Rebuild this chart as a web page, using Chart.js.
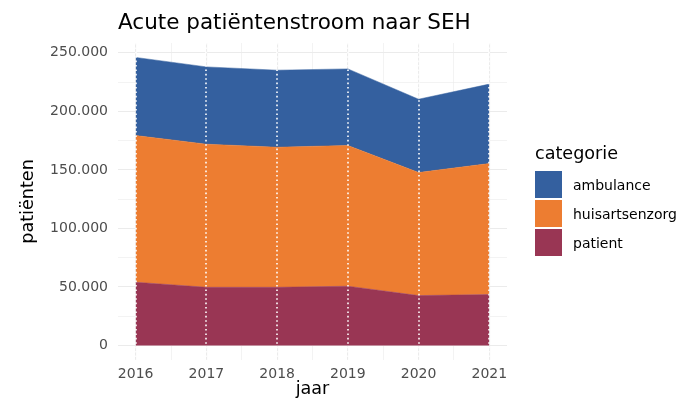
<!DOCTYPE html>
<html lang="nl">
  <head>
    <meta charset="UTF-8" />
    <title>Acute patiëntenstroom naar SEH</title>
    <style>
      body {
        margin: 0;
        background: #fff;
        font-family: "DejaVu Sans", sans-serif;
      }
      .frame {
        position: relative;
        width: 687px;
        height: 405px;
      }
      #title {
        position: absolute;
        left: 118px;
        top: 11px;
        font-size: 21.5px;
        line-height: 22px;
        color: #000;
        white-space: nowrap;
      }
      .legend {
        position: absolute;
        left: 535px;
        top: 142px;
      }
      .legend h4 {
        margin: 0 0 7px 0;
        font-weight: normal;
        font-size: 17.6px;
        line-height: 22px;
      }
      .legend .item {
        display: flex;
        align-items: center;
        height: 27px;
        margin-bottom: 2px;
        font-size: 14px;
      }
      .legend .box {
        width: 27px;
        height: 27px;
        margin-right: 11px;
      }
    </style>
  </head>
  <body>
    <div class="frame">
      <canvas id="myChart" width="687" height="405"></canvas>
      <div id="title">Acute patiëntenstroom naar SEH</div>
      <div class="legend">
        <h4>categorie</h4>
        <div id="legendItems"></div>
      </div>
    </div>
  </body>
  <script src="https://cdn.jsdelivr.net/npm/chart.js"></script>

  <script>
    const years = [2016, 2017, 2018, 2019, 2020, 2021];
    const patient = [54100, 49800, 49800, 50700, 42700, 43600];
    const huisartsenzorg = [125300, 122200, 119600, 120200, 105100, 111900];
    const ambulance = [66700, 66000, 65800, 65400, 62600, 67800];
    const yTicks = [0, 50000, 100000, 150000, 200000, 250000];
    const yTickLabels = ["0", "50.000", "100.000", "150.000", "200.000", "250.000"];

    const colors = {
      ambulance: "#34609f",
      huisartsenzorg: "#ed7d31",
      patient: "#993654",
    };
    const gridColor = "#ebebeb";
    const tickColor = "#4d4d4d";

    // stapel-totaal voor het asbereik (ggplot expand 5%)
    const totals = years.map((_, i) => patient[i] + huisartsenzorg[i] + ambulance[i]);
    const yMaxData = Math.max(...totals);
    const xSpan = years[years.length - 1] - years[0];

    function points(values) {
      return years.map((y, i) => ({ x: y, y: values[i] }));
    }

    // hoofd- en tussenlijnen
    function withMinor(major) {
      const t = [];
      major.forEach((v, i) => {
        t.push({ value: v, major: true });
        if (i < major.length - 1) t.push({ value: (v + major[i + 1]) / 2, major: false });
      });
      return t;
    }

    // witte stippellijnen per jaar over de vlakken
    const yearLines = {
      id: "yearLines",
      afterDatasetsDraw(chart) {
        const { ctx, chartArea, scales } = chart;
        ctx.save();
        ctx.strokeStyle = "#ffffff";
        ctx.lineWidth = 1.6;
        ctx.setLineDash([1.6, 2.8]);
        years.forEach((yr) => {
          const x = Math.round(scales.x.getPixelForValue(yr));
          ctx.beginPath();
          ctx.moveTo(x, chartArea.top);
          ctx.lineTo(x, chartArea.bottom);
          ctx.stroke();
        });
        ctx.restore();
      },
    };

    function gridWidth(c) {
      return c.tick && c.tick.major ? 1.1 : 0.6;
    }

    const ctx = document.getElementById("myChart");
    const chart = new Chart(ctx, {
      type: "line",
      data: {
        datasets: [
          {
            label: "patient",
            data: points(patient),
            backgroundColor: colors.patient,
            borderColor: colors.patient,
            borderWidth: 0.5,
            fill: "origin",
            pointRadius: 0,
          },
          {
            label: "huisartsenzorg",
            data: points(huisartsenzorg),
            backgroundColor: colors.huisartsenzorg,
            borderColor: colors.huisartsenzorg,
            borderWidth: 0.5,
            fill: "-1",
            pointRadius: 0,
          },
          {
            label: "ambulance",
            data: points(ambulance),
            backgroundColor: colors.ambulance,
            borderColor: colors.ambulance,
            borderWidth: 0.5,
            fill: "-1",
            pointRadius: 0,
          },
        ],
      },
      options: {
        responsive: false,
        animation: false,
        layout: { padding: { top: 43, right: 180, left: 0, bottom: 0 } },
        plugins: {
          legend: { display: false },
          tooltip: { enabled: false },
        },
        scales: {
          x: {
            type: "linear",
            min: years[0] - 0.05 * xSpan,
            max: years[years.length - 1] + 0.05 * xSpan,
            afterBuildTicks(scale) {
              scale.ticks = withMinor(years);
            },
            afterFit(scale) {
              scale.height = 45;
            },
            grid: { color: gridColor, lineWidth: gridWidth, drawTicks: false },
            border: { display: false },
            ticks: {
              autoSkip: false,
              maxRotation: 0,
              padding: 6,
              color: tickColor,
              font: { family: "DejaVu Sans", size: 14 },
              callback: (v) => (years.includes(v) ? String(v) : ""),
            },
            title: {
              display: true,
              text: "jaar",
              color: "#000",
              font: { family: "DejaVu Sans", size: 17.6 },
              padding: { top: 0, bottom: 5 },
            },
          },
          y: {
            stacked: true,
            min: -0.05 * yMaxData,
            max: 1.05 * yMaxData,
            afterBuildTicks(scale) {
              scale.ticks = withMinor(yTicks);
            },
            afterFit(scale) {
              scale.width = 118;
            },
            grid: { color: gridColor, lineWidth: gridWidth, drawTicks: false },
            border: { display: false },
            ticks: {
              autoSkip: false,
              padding: 10,
              color: tickColor,
              font: { family: "DejaVu Sans", size: 14 },
              callback: (v) => {
                const i = yTicks.indexOf(v);
                return i >= 0 ? yTickLabels[i] : "";
              },
            },
            title: {
              display: true,
              text: "patiënten",
              color: "#000",
              font: { family: "DejaVu Sans", size: 17.6 },
              padding: { top: 18, bottom: 0 },
            },
          },
        },
      },
      plugins: [yearLines],
    });

    // legenda in omgekeerde volgorde (ambulance bovenaan)
    const legendItems = document.getElementById("legendItems");
    chart.data.datasets
      .slice()
      .reverse()
      .forEach((ds) => {
        const item = document.createElement("div");
        item.className = "item";
        const box = document.createElement("span");
        box.className = "box";
        box.style.background = ds.backgroundColor;
        const label = document.createElement("span");
        label.textContent = ds.label;
        item.appendChild(box);
        item.appendChild(label);
        legendItems.appendChild(item);
      });
  </script>
</html>
